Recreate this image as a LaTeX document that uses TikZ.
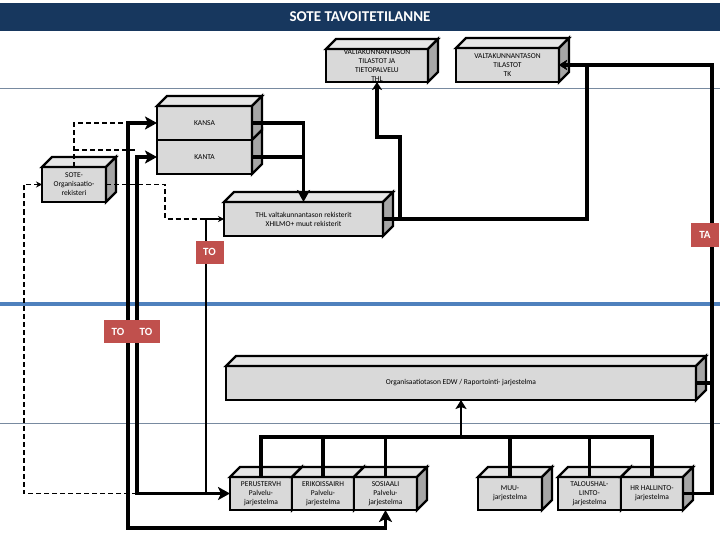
\documentclass[tikz,border=0pt]{standalone}
\usepackage{fontspec}
\setmainfont{Carlito}
\usepackage{tikz}
\usetikzlibrary{arrows.meta,positioning,calc}
\definecolor{titleblue}{RGB}{23,55,94}
\definecolor{tored}{RGB}{192,80,77}
\definecolor{bandblue}{RGB}{79,129,189}
\definecolor{rulegray}{RGB}{120,138,160}
\definecolor{frontgray}{RGB}{217,217,217}
\definecolor{topgray}{RGB}{230,230,230}
\definecolor{sidegray}{RGB}{166,166,166}
\tikzset{
    cube/.style={
        draw, fill=frontgray, line width=2.4pt,
        inner sep=0pt, outer sep=0pt, align=center,
        font=\fontsize{7.5}{9}\selectfont
    },
    % punaiset tunnisteet
    tolabel/.style={
        fill=tored, text=white, inner sep=0pt, outer sep=0pt,
        minimum width=28pt, minimum height=23pt,
        font=\fontsize{11}{13}\selectfont\bfseries
    },
    mainline/.style={line width=3.5pt, black},
    mainarrow/.style={
        mainline, ->,
        >={Stealth[length=12pt, width=13pt, inset=3pt]}
    },
    smallarrow/.style={
        mainline, ->,
        >={Stealth[length=8pt, width=10pt, inset=2pt]}
    },
    midarrow/.style={
        line width=2.8pt, ->,
        >={Stealth[length=9pt, width=11pt, inset=2pt]}
    },
    thinarrow/.style={
        line width=1.8pt, ->,
        >={Stealth[length=6pt, width=6pt]}
    },
    dashline/.style={line width=1.8pt, dash pattern=on 5pt off 3pt},
    dasharrow/.style={
        dashline, ->,
        >={Stealth[length=6pt, width=6pt]}
    }
}
% kuution kansi ja kylki
\newcommand{\cubetop}[1]{%
  \draw[line width=2.4pt, fill=topgray] (#1.north west) -- ++(10,-10)
    -- ($(#1.north east)+(10,-10)$) -- (#1.north east) -- cycle;}
\newcommand{\cubeside}[1]{%
  \draw[line width=2.4pt, fill=sidegray] (#1.north east) -- ++(10,-10)
    -- ($(#1.south east)+(10,-10)$) -- (#1.south east) -- cycle;}
\newcommand{\cubefaces}[1]{\cubetop{#1}\cubeside{#1}}

\begin{document}
\begin{tikzpicture}[x=1pt,y=-1pt]
	\useasboundingbox (0,0) rectangle (720,540);
	
	% tausta
	\fill[titleblue] (0,3) rectangle (720,31);
	\node[text=white, font=\fontsize{15}{17}\selectfont\bfseries] (title) at (360,17) {SOTE TAVOITETILANNE};
	\draw[rulegray, line width=1pt] (0,89) -- (720,89);
	\draw[rulegray, line width=1pt] (0,423) -- (720,423);
	\draw[bandblue, line width=3.5pt] (0,304) -- (720,304);
	
	% ylarivi
	\node[cube, minimum width=102pt, minimum height=33pt] (thltop) at (377,65.5) {VALTAKUNNANTASON\\TILASTOT JA\\TIETOPALVELU\\THL};
	\cubefaces{thltop}
	\node[cube, minimum width=103pt, minimum height=34pt] (tk) at (507.5,65) {VALTAKUNNANTASON\\TILASTOT\\TK};
	\cubefaces{tk}
	
	\node[cube, minimum width=95pt, minimum height=34pt] (kansa) at (204.5,123) {KANSA};
	\cubefaces{kansa}
	\node[cube, minimum width=95pt, minimum height=34pt, below=0pt of kansa] (kanta) {KANTA};
	\cubeside{kanta}
	
	\node[cube, minimum width=64pt, minimum height=35pt] (sote) at (74,184.5) {SOTE-\\Organisaatio-\\rekisteri};
	\cubefaces{sote}
	\node[cube, minimum width=159pt, minimum height=34pt] (thlreg) at (303.5,219) {THL valtakunnantason rekisterit\\XHILMO+ muut rekisterit};
	\cubefaces{thlreg}
	
	\node[cube, minimum width=470pt, minimum height=34pt] (edw) at (461,383) {Organisaatiotason EDW / Raportointi- jarjestelma};
	\cubefaces{edw}
	
	% alarivi
	\node[cube, minimum width=62pt, minimum height=33pt] (peruster) at (261,493.5) {PERUSTERVH\\Palvelu-\\jarjestelma};
	\cubefaces{peruster}
	\node[cube, minimum width=62pt, minimum height=33pt, right=0pt of peruster] (erikois) {ERIKOISSAIRH\\Palvelu-\\jarjestelma};
	\cubefaces{erikois}
	\node[cube, minimum width=63pt, minimum height=33pt, right=0pt of erikois] (sosiaali) {SOSIAALI\\Palvelu-\\jarjestelma};
	\cubefaces{sosiaali}
	\node[cube, minimum width=64pt, minimum height=33pt] (muu) at (510,493.5) {MUU-\\jarjestelma};
	\cubefaces{muu}
	\node[cube, minimum width=63pt, minimum height=33pt] (talous) at (589.5,493.5) {TALOUSHAL-\\LINTO-\\jarjestelma};
	\cubefaces{talous}
	\node[cube, minimum width=62pt, minimum height=33pt, right=0pt of talous] (hr) {HR HALLINTO-\\jarjestelma};
	\cubefaces{hr}
	
	% taitepisteet
	\coordinate (thlbend) at (400,137);
	\coordinate (tkbend) at (587,219);
	\coordinate (tarail) at (712,235);
	\coordinate (bus) at (461,437);
	\coordinate (leftrail) at (128,528);
	\coordinate (innerrail) at (137,493.5);
	\coordinate (torail) at (206,493.5);
	\coordinate (dashfork) at (74,150);
	\coordinate (dashbend) at (165,219);
	\coordinate (dashrail) at (24,493.5);
	
	% paayhteydet
	\draw[smallarrow] (thlreg.east) -| (thlbend) -| (thltop.south);
	\draw[smallarrow] (thlreg.east) -- (tkbend) |- (tk.east);
	\draw[smallarrow] (hr.east) -| (tarail) |- (tk.east);
	\draw[mainline] (edw.east) -- (edw.east -| tarail);
	\draw[mainarrow] (kansa.east) -| (thlreg.north);
	\draw[mainline] (kanta.east) -- (kanta.east -| thlreg.north);
	
	% vayla
	\draw[mainline] (peruster.north) |- (bus) -| (hr.north);
	\foreach \sys in {erikois,sosiaali,muu,talous}
		\draw[mainline] (\sys.north) -- (\sys.north |- bus);
	\draw[midarrow] (bus) -- (edw.south);
	
	\draw[mainarrow, <->] (kansa.west) -| (leftrail) -| (sosiaali.south);
	\draw[mainarrow, <->] (kanta.west) -| (innerrail) -- (peruster.west);
	\draw[thinarrow] (torail) |- (thlreg.west);
	
	% katkoviivat
	\draw[dashline] (sote.north) |- (kansa.west -| leftrail);
	\draw[dashline] (dashfork) -- (dashfork -| innerrail);
	\draw[dashline] (sote.east) -| (dashbend) -- (dashbend -| torail);
	\draw[dasharrow] (innerrail) -- (dashrail) |- (sote.west);
	
	% tunnisteet
	\node[tolabel] (to1) at (209.5,252) {TO};
	\node[tolabel] (to2) at (118,331.5) {TO};
	\node[tolabel, right=0pt of to2] (to3) {TO};
	\node[tolabel] (ta) at (705,235) {TA};
\end{tikzpicture}
\end{document}
